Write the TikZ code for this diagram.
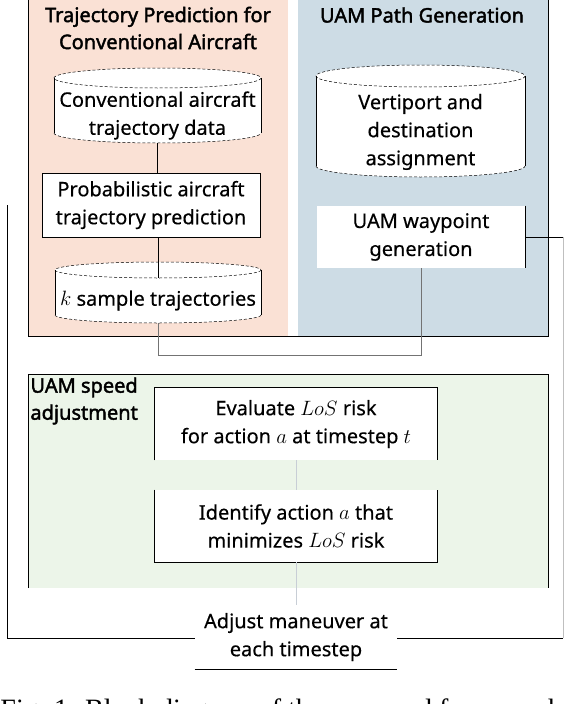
\documentclass[tikz,border=0pt]{standalone}
\usepackage{fontspec}
\setmainfont{Noto Sans}[FakeBold=0.35]
\newfontfamily\headfont{Noto Sans}[FakeBold=2]
\newfontfamily\capfont{Liberation Serif}
\usepackage{tikz}
\usetikzlibrary{positioning}

\definecolor{pinkbg}{RGB}{250,225,213}
\definecolor{bluebg}{RGB}{205,220,229}
\definecolor{greenbg}{RGB}{236,245,233}
\definecolor{linkgray}{RGB}{200,206,214}

% drum outline: x1, x2, top centre y, bottom centre y, y radius
\newcommand\drum[5]{%
  \fill[white] (#1,#3) -- (#1,#4)
    arc[start angle=180,end angle=0,x radius={(#2-#1)/2},y radius=#5]
    -- (#2,#3)
    arc[start angle=0,end angle=-180,x radius={(#2-#1)/2},y radius=#5] -- cycle;
  \draw (#1,#3) -- (#1,#4) (#2,#3) -- (#2,#4);
  \draw[dashed] ({(#1+#2)/2},#3) ellipse[x radius={(#2-#1)/2},y radius=#5];
  \draw[dashed] (#1,#4) arc[start angle=180,end angle=0,x radius={(#2-#1)/2},y radius=#5];
}

\begin{document}
\begin{tikzpicture}[x=1pt,y=-1pt,line width=0.9pt,
    dashed/.style={dash pattern=on 3pt off 2pt,line width=0.5pt},
    txt/.style={align=center,inner sep=0pt,font=\fontsize{20}{28}\selectfont},
    head/.style={txt,font=\headfont\fontsize{20}{27}\selectfont},
    whitebox/.style={txt,fill=white}]
      \useasboundingbox (0,0) rectangle (564,704);
      \clip (0,0) rectangle (564,704);

      \fill[pinkbg]  (28,0)   rectangle (288,336);
      \fill[bluebg]  (298,0)  rectangle (548,336);
      \fill[greenbg] (28,374) rectangle (548,588);
      \draw (28,0) -- (28,336) -- (548,336) -- (548,0);
      \draw (28,588) -- (28,374) -- (548,374) -- (548,588);

      \node(TP) at (158,28) [head] {Trajectory Prediction for\\Conventional Aircraft};
      \node(TU) at (422,15) [head] {UAM Path Generation};

      \drum{54}{261}{78}{133}{10}
      \drum{55}{261}{270}{315}{8}
      \drum{316}{525}{76}{166}{11}

      \node(C1) at (157.5,115.5) [txt,minimum width=207,minimum height=55] {Conventional aircraft\\trajectory data};
      \node(PR) at (151,205)     [whitebox,draw,minimum width=218,minimum height=64] {Probabilistic aircraft\\trajectory prediction};
      \node(C3) at (158,300.5)   [txt,minimum width=206,minimum height=45] {$k$ sample trajectories};
      \node(V1) at (420.5,132)   [txt,minimum width=209,minimum height=90] {Vertiport and\\destination\\assignment};
      \node(WP) at (421,237)     [whitebox,minimum width=208,minimum height=62] {UAM waypoint\\generation};

      \node(SP) at (30,377) [head,anchor=north west,align=left] {UAM speed\\adjustment};
      \node(EV) at (296,424) [whitebox,minimum width=282,minimum height=72] {Evaluate $LoS$ risk\\for action $a$ at timestep $t$};
      \node(ID) at (296,526) [whitebox,minimum width=282,minimum height=72] {Identify action $a$ that\\minimizes $LoS$ risk};
      \node(AD) at (296,637) [whitebox,minimum width=202,minimum height=64] {Adjust maneuver at\\each timestep};

      \draw (WP.north east) -- (WP.south east);
      \draw (EV.south west) |- (EV.north east) -- (EV.south east);
      \draw (ID.north west) |- (ID.south east) -- (ID.north east);
      \draw (AD.south west) -- (AD.south east);

      \draw (C1.south) -- (C1.south |- PR.north);
      \draw (PR.south -| C3.north) -- (C3.north);
      \draw[black!55] (C3.south) -- ++(0,32) -| (WP.south);
      \draw[linkgray] (EV.south) -- (ID.north) (ID.south) -- (AD.north);

      \coordinate(RT) at (563,237);
      \coordinate(RB) at (563,638);
      \coordinate(LT) at (7,205);
      \coordinate(LB) at (7,638);
      \draw (WP.east) -- (RT);
      \draw[black!25] (RT) -- (RB);
      \draw (RB) -- (AD.east |- RB);
      \draw (LT) -- (LB) -- (AD.west |- LB);

      \node(FC) at (0,718) [anchor=base west,inner sep=0pt,font=\capfont\fontsize{28}{30}\selectfont] {Fig. 1: Block diagram of the proposed framework};
    \end{tikzpicture}
\end{document}
